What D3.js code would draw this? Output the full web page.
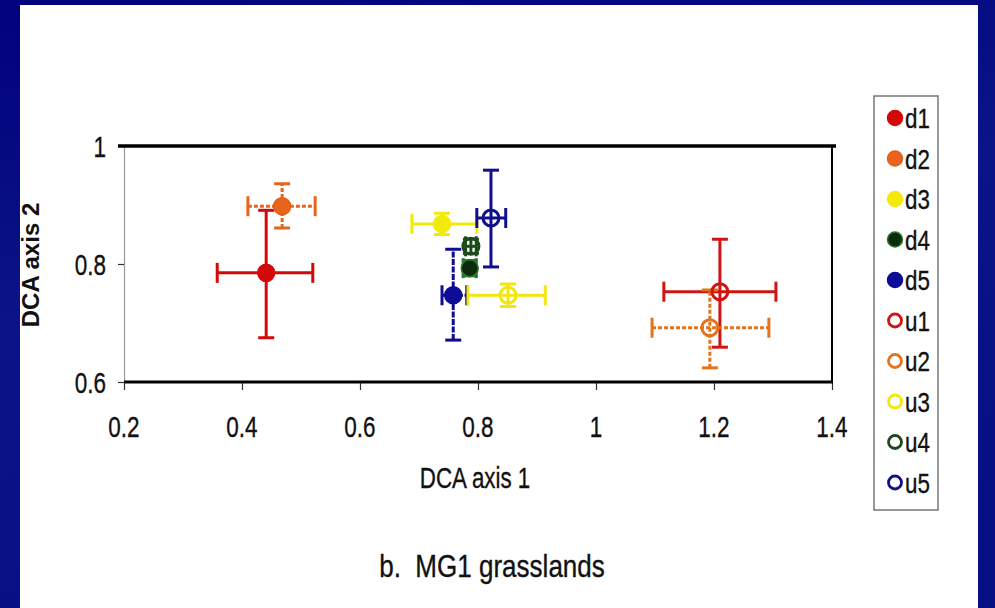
<!DOCTYPE html>
<html><head><meta charset="utf-8">
<script src="https://cdn.jsdelivr.net/npm/d3@7"></script>
<style>html,body{margin:0;padding:0;background:#000080;}svg{display:block;}text{white-space:pre;}</style>
</head><body>
<script>
// ---- data ----
const seriesNames = ["d1","d2","d3","d4","d5","u1","u2","u3","u4","u5"];
const xValues = [0.441, 0.468, 0.739, 0.786, 0.758, 1.210, 1.193, 0.851, 0.788, 0.822];
const yValues = [0.785, 0.898, 0.868, 0.793, 0.747, 0.753, 0.692, 0.747, 0.830, 0.878];
const xLow  = [0.358, 0.410, 0.688, 0.775, 0.739, 1.115, 1.095, 0.783, 0.779, 0.798];
const xHigh = [0.520, 0.524, 0.798, 0.797, 0.781, 1.305, 1.293, 0.914, 0.797, 0.847];
const yLow  = [0.675, 0.861, 0.850, 0.780, 0.671, 0.659, 0.624, 0.728, 0.818, 0.795];
const yHigh = [0.891, 0.936, 0.886, 0.806, 0.825, 0.842, 0.756, 0.766, 0.842, 0.959];
const xTicks = [0.2, 0.4, 0.6, 0.8, 1, 1.2, 1.4];
const yTicks = [0.6, 0.8, 1];
const xLabel = "DCA axis 1";
const yLabel = "DCA axis 2";
const caption = "b.  MG1 grasslands";

// ---- styles ----
const colors  = ["#d40808","#e8641c","#f4ea0a","#0c2a0c","#0c0c96","#d01414","#e2741c","#f2e60a","#1c4a1c","#10108e"];
const strokes = ["#d40808","#e0601a","#f4ea0a","#2a7a2a","#0c0c96","#d01414","#e2741c","#f2e60a","#1c4a1c","#10108e"];
const filled  = [true,true,true,true,true,false,false,false,false,false];
const dashes  = [null,"4,2",null,"3,2","6,1.5",null,"4,2",null,null,null];

const W = 995, H = 608;
const svg = d3.select("body").append("svg").attr("width", W).attr("height", H);
const defs = svg.append("defs");
const grad = defs.append("linearGradient").attr("id","bg").attr("x1","0").attr("y1","0").attr("x2","0.3").attr("y2","1");
grad.append("stop").attr("offset","0").attr("stop-color","#02027c");
grad.append("stop").attr("offset","0.5").attr("stop-color","#0a1488");
grad.append("stop").attr("offset","1").attr("stop-color","#060f84");
svg.append("rect").attr("width",W).attr("height",H).attr("fill","url(#bg)");
svg.append("rect").attr("x",20).attr("y",5).attr("width",958).attr("height",H-5).attr("fill","#ffffff");

const x = d3.scaleLinear().domain([0.2,1.4]).range([124,832]);
const y = d3.scaleLinear().domain([0.6,1]).range([382,146]);

const FONT = "'Liberation Sans', Arial, Helvetica, sans-serif";
function ctext(g, px, py, str, size, sx, anchor, weight) {
  const t = g.append("g").attr("transform", `translate(${px},${py}) scale(${sx},1)`);
  t.append("text").attr("x",0).attr("y",0).attr("text-anchor",anchor||"middle")
    .attr("font-family",FONT).attr("font-size",size).attr("font-weight",weight||"normal")
    .attr("fill","#111").attr("stroke","#111").attr("stroke-width",0.35).text(str);
}

// axes
const xAxis = d3.axisBottom(x).tickValues(xTicks).tickSize(8).tickFormat("");
const gx = svg.append("g").attr("transform","translate(0,382)").call(xAxis);
gx.select(".domain").remove();
gx.selectAll(".tick line").attr("stroke","#333").attr("stroke-width",1.2);
const yAxis = d3.axisLeft(y).tickValues(yTicks).tickSize(6).tickFormat("");
const gy = svg.append("g").attr("transform","translate(124,0)").call(yAxis);
gy.select(".domain").attr("stroke","#999").attr("stroke-width",1.2);
gy.selectAll(".tick line").attr("stroke","#333").attr("stroke-width",1.2);

// frame
svg.append("line").attr("x1",118).attr("x2",836).attr("y1",y(1)).attr("y2",y(1)).attr("stroke","#000").attr("stroke-width",3.5);
svg.append("line").attr("x1",x(1.4)).attr("x2",x(1.4)).attr("y1",y(1)).attr("y2",y(0.6)).attr("stroke","#000").attr("stroke-width",2);
svg.append("line").attr("x1",x(0.2)).attr("x2",x(1.4)+1).attr("y1",y(0.6)).attr("y2",y(0.6)).attr("stroke","#000").attr("stroke-width",3.2);

// tick labels
const lab = svg.append("g");
xTicks.forEach(v => ctext(lab, x(v), 437, String(v), 30, 0.75));
yTicks.forEach(v => ctext(lab, 106, y(v)+11, String(v), 30, 0.75, "end"));
ctext(lab, 475, 488, xLabel, 29, 0.77);
ctext(lab, 492, 577, caption, 31, 0.84);
lab.append("text").attr("transform","translate(39,265) rotate(-90)").attr("text-anchor","middle")
  .attr("font-family",FONT).attr("font-size",24).attr("font-weight","bold").attr("fill","#111").text(yLabel);

// error bars
const pts = seriesNames.map((n,i)=>({n,i}));
const eb = svg.append("g");
pts.forEach(({i})=>{
  const c = i===3 ? "#2a7a2a" : colors[i];
  const g = eb.append("g").attr("stroke",c).attr("stroke-width",3).attr("fill","none");
  if (dashes[i]) g.attr("stroke-dasharray", dashes[i]);
  const cx = x(xValues[i]), cy = y(yValues[i]);
  g.append("line").attr("x1",x(xLow[i])).attr("x2",x(xHigh[i])).attr("y1",cy).attr("y2",cy);
  g.append("line").attr("x1",cx).attr("x2",cx).attr("y1",y(yLow[i])).attr("y2",y(yHigh[i]));
  const g2 = eb.append("g").attr("stroke", c).attr("stroke-width",3);
  [xLow[i],xHigh[i]].forEach(v=>g2.append("line").attr("x1",x(v)).attr("x2",x(v)).attr("y1",cy-10).attr("y2",cy+10));
  [yLow[i],yHigh[i]].forEach(v=>g2.append("line").attr("y1",y(v)).attr("y2",y(v)).attr("x1",cx-8).attr("x2",cx+8));
});

// markers
const mk = svg.append("g");
pts.forEach(({i})=>{
  mk.append("circle").attr("cx",x(xValues[i])).attr("cy",y(yValues[i]))
    .attr("r", filled[i] ? 8.5 : 8)
    .attr("fill", filled[i] ? colors[i] : "none")
    .attr("stroke", strokes[i]).attr("stroke-width", filled[i] ? 1.5 : 3);
});

// legend
const leg = svg.append("g");
leg.append("rect").attr("x",874).attr("y",96).attr("width",64).attr("height",414)
  .attr("fill","#fff").attr("stroke","#777").attr("stroke-width",1.5);
seriesNames.forEach((n,i)=>{
  const ly = 118 + i*40.5;
  leg.append("circle").attr("cx",895).attr("cy",ly).attr("r", filled[i]?7.5:6.5)
    .attr("fill", filled[i]?colors[i]:"none").attr("stroke",strokes[i]).attr("stroke-width", filled[i]?1.5:2.8);
  ctext(leg, 905, ly+10, n, 28, 0.8, "start");
});
</script>
</body></html>
